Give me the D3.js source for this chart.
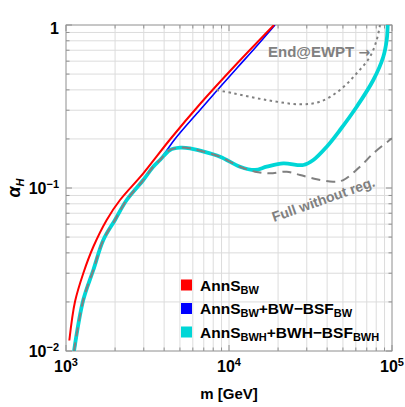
<!DOCTYPE html>
<html><head><meta charset="utf-8">
<script src="https://cdn.jsdelivr.net/npm/d3@7"></script>
<style>
html,body{margin:0;padding:0;background:#fff;}
svg text{font-family:"Liberation Sans",Arial,sans-serif;}
</style></head>
<body>
<svg id="c" width="405" height="407"></svg>
<script>
// ---- data (m in GeV, alpha_H) ----
const redM  = [1048, 1136, 1277, 1471, 1777, 2145, 2980, 4345, 6640, 11200, 18880];
const redA  = [0.0116, 0.0201, 0.0300, 0.0436, 0.0637, 0.0844, 0.123, 0.1984, 0.3276, 0.5805, 1.0];

const blueM = [1130, 1277, 1471, 1694, 1998, 2357, 2980, 3418, 3773, 4664, 6640, 11200, 14440, 19150];
const blueA = [0.0100, 0.0206, 0.0314, 0.0480, 0.0637, 0.0844, 0.1119, 0.1345, 0.1490, 0.1998, 0.3011, 0.5447, 0.7228, 1.0];

const cyanM = [1120, 1277, 1471, 1694, 1998, 2357, 2980, 3418, 3773, 4345, 5005, 5764, 6640, 8807, 11680, 14440, 17030, 21540, 28570, 32900, 39770, 47970, 60740, 76800, 88430, 92800, 94100];
const cyanA = [0.0100, 0.0206, 0.0314, 0.0480, 0.0637, 0.0844, 0.1119, 0.1345, 0.1485, 0.1711, 0.1767, 0.1752, 0.1694, 0.1556, 0.1351, 0.1290, 0.1351, 0.1417, 0.1384, 0.1485, 0.1792, 0.2269, 0.3152, 0.4598, 0.6390, 0.809, 1.0];

const dashM = [1120, 1277, 1471, 1694, 1998, 2357, 2980, 3418, 3773, 4345, 5005, 5764, 6640, 8807, 11680, 14440, 17840, 22590, 27270, 34520, 43640, 50260, 63630, 76800, 100000];
const dashA = [0.0100, 0.0206, 0.0314, 0.0480, 0.0637, 0.0844, 0.1119, 0.1345, 0.1485, 0.1711, 0.1767, 0.1752, 0.1694, 0.1556, 0.1351, 0.1259, 0.1231, 0.1259, 0.1202, 0.1131, 0.1093, 0.1119, 0.1351, 0.1632, 0.2018];

const dotM  = [8405, 10630, 17030, 27270, 36160, 47970, 60740, 73280, 80550, 84410];
const dotA  = [0.3993, 0.381, 0.3467, 0.3262, 0.3384, 0.3993, 0.5056, 0.639, 0.809, 1.0];

const xTickExp = [3, 4, 5];
const yTickExp = [-2, -1, 0];
const legendLabels = [
  [["AnnS",""],["BW","sub"]],
  [["AnnS",""],["BW","sub"],["+BW\u2212BSF",""],["BW","sub"]],
  [["AnnS",""],["BWH","sub"],["+BWH\u2212BSF",""],["BWH","sub"]]
];
const seriesColors = ["#ff0000", "#0000ff", "#00d6d6"];

// ---- layout ----
const svg = d3.select("#c");
const L = 66, R = 392, T = 25, B = 351;
const x = d3.scaleLog().domain([1e3, 1e5]).range([L, R]);
const y = d3.scaleLog().domain([1e-2, 1]).range([B, T]);

const xMinor = [], yMinor = [];
for (let e = 3; e < 5; e++) for (let k = 1; k < 10; k++) xMinor.push(k * Math.pow(10, e));
xMinor.push(1e5);
for (let e = -2; e < 0; e++) for (let k = 1; k < 10; k++) yMinor.push(k * Math.pow(10, e));
yMinor.push(1);

// grid
const g = svg.append("g");
g.selectAll(".gx").data(xMinor).enter().append("line")
  .attr("x1", d => x(d)).attr("x2", d => x(d)).attr("y1", T).attr("y2", B)
  .attr("stroke", "#dcdcdc").attr("stroke-width", 1);
g.selectAll(".gy").data(yMinor).enter().append("line")
  .attr("y1", d => y(d)).attr("y2", d => y(d)).attr("x1", L).attr("x2", R)
  .attr("stroke", "#dcdcdc").attr("stroke-width", 1);

// frame
svg.append("rect").attr("x", L).attr("y", T).attr("width", R - L).attr("height", B - T)
  .attr("fill", "none").attr("stroke", "#a0a0a0").attr("stroke-width", 1);

// ticks
const isMajor = v => Math.abs(Math.log10(v) - Math.round(Math.log10(v))) < 1e-9;
const tk = svg.append("g").attr("stroke", "#909090").attr("stroke-width", 1);
xMinor.forEach(v => {
  const len = isMajor(v) ? 6 : 3.5;
  tk.append("line").attr("x1", x(v)).attr("x2", x(v)).attr("y1", B).attr("y2", B - len);
  tk.append("line").attr("x1", x(v)).attr("x2", x(v)).attr("y1", T).attr("y2", T + len);
});
yMinor.forEach(v => {
  const len = isMajor(v) ? 6 : 3.5;
  tk.append("line").attr("y1", y(v)).attr("y2", y(v)).attr("x1", L).attr("x2", L + len);
  tk.append("line").attr("y1", y(v)).attr("y2", y(v)).attr("x1", R).attr("x2", R - len);
});

// curves
svg.append("clipPath").attr("id", "clip").append("rect")
  .attr("x", L).attr("y", T).attr("width", R - L).attr("height", B - T);
const plot = svg.append("g").attr("clip-path", "url(#clip)");
const line = d3.line().x(d => x(d[0])).y(d => y(d[1])).curve(d3.curveCatmullRom.alpha(0.5));
const zip = (a, b) => a.map((v, i) => [v, b[i]]);

plot.append("path").datum(zip(blueM, blueA)).attr("d", line)
  .attr("fill", "none").attr("stroke", seriesColors[1]).attr("stroke-width", 1.6);
plot.append("path").datum(zip(redM, redA)).attr("d", line)
  .attr("fill", "none").attr("stroke", seriesColors[0]).attr("stroke-width", 2);
plot.append("path").datum(zip(dotM, dotA)).attr("d", line)
  .attr("fill", "none").attr("stroke", "#808080").attr("stroke-width", 2)
  .attr("stroke-dasharray", "2.5,3.5");
plot.append("path").datum(zip(cyanM, cyanA)).attr("d", line)
  .attr("fill", "none").attr("stroke", seriesColors[2]).attr("stroke-width", 3.8);
plot.append("path").datum(zip(dashM, dashA)).attr("d", line)
  .attr("fill", "none").attr("stroke", "#808080").attr("stroke-width", 2)
  .attr("stroke-dasharray", "9,6");

// annotations
const ew = svg.append("text").attr("x", 268).attr("y", 57).attr("fill", "#808080")
  .attr("font-size", 15).attr("font-weight", "bold");
ew.append("tspan").text("End@EWPT ");
ew.append("tspan").attr("style", "font-family:'DejaVu Sans'").attr("font-size", 14).text("\u2192");
svg.append("text").attr("transform", "translate(274,222) rotate(-19.5)")
  .attr("fill", "#808080").attr("font-size", 14).attr("font-weight", "bold").text("Full without reg.");

// tick labels
xTickExp.forEach(e => {
  const t = svg.append("text").attr("x", x(Math.pow(10, e))).attr("y", 372)
    .attr("text-anchor", "middle").attr("font-weight", "bold").attr("font-size", 16).attr("fill", "#000");
  t.append("tspan").text("10");
  t.append("tspan").attr("dy", -6).attr("font-size", 11).text(String(e));
});
yTickExp.forEach(e => {
  const t = svg.append("text").attr("x", 59).attr("y", e === 0 ? 34 : y(Math.pow(10, e)) + 6)
    .attr("text-anchor", "end").attr("font-weight", "bold").attr("font-size", 16).attr("fill", "#000");
  if (e === 0) { t.text("1"); return; }
  t.append("tspan").text("10");
  t.append("tspan").attr("dy", -6).attr("font-size", 11).text("\u2212" + Math.abs(e));
});

// axis titles
svg.append("text").attr("x", 229).attr("y", 399).attr("text-anchor", "middle")
  .attr("font-weight", "bold").attr("font-size", 15).text("m [GeV]");
const yl = svg.append("text").attr("transform", "translate(20,188) rotate(-90)")
  .attr("text-anchor", "middle").attr("font-size", 18).attr("font-style", "italic").attr("font-weight", "bold");
yl.append("tspan").text("\u03b1");
yl.append("tspan").attr("dy", 4).attr("font-size", 11).text("H");

// legend
const ly = [285, 308.5, 332];
legendLabels.forEach((parts, i) => {
  svg.append("rect").attr("x", 181).attr("y", ly[i] - 5.5).attr("width", 11).attr("height", 11)
    .attr("fill", seriesColors[i]);
  const t = svg.append("text").attr("x", 200).attr("y", ly[i] + 5.5)
    .attr("font-weight", "bold").attr("font-size", 15.5).attr("fill", "#000");
  let sub = false;
  parts.forEach(([s, kind]) => {
    const ts = t.append("tspan").text(s);
    if (kind === "sub" && !sub) { ts.attr("dy", 3).attr("font-size", 11); sub = true; }
    else if (kind === "sub") { ts.attr("font-size", 11); }
    else if (sub) { ts.attr("dy", -3); sub = false; }
  });
});
</script>
</body></html>
